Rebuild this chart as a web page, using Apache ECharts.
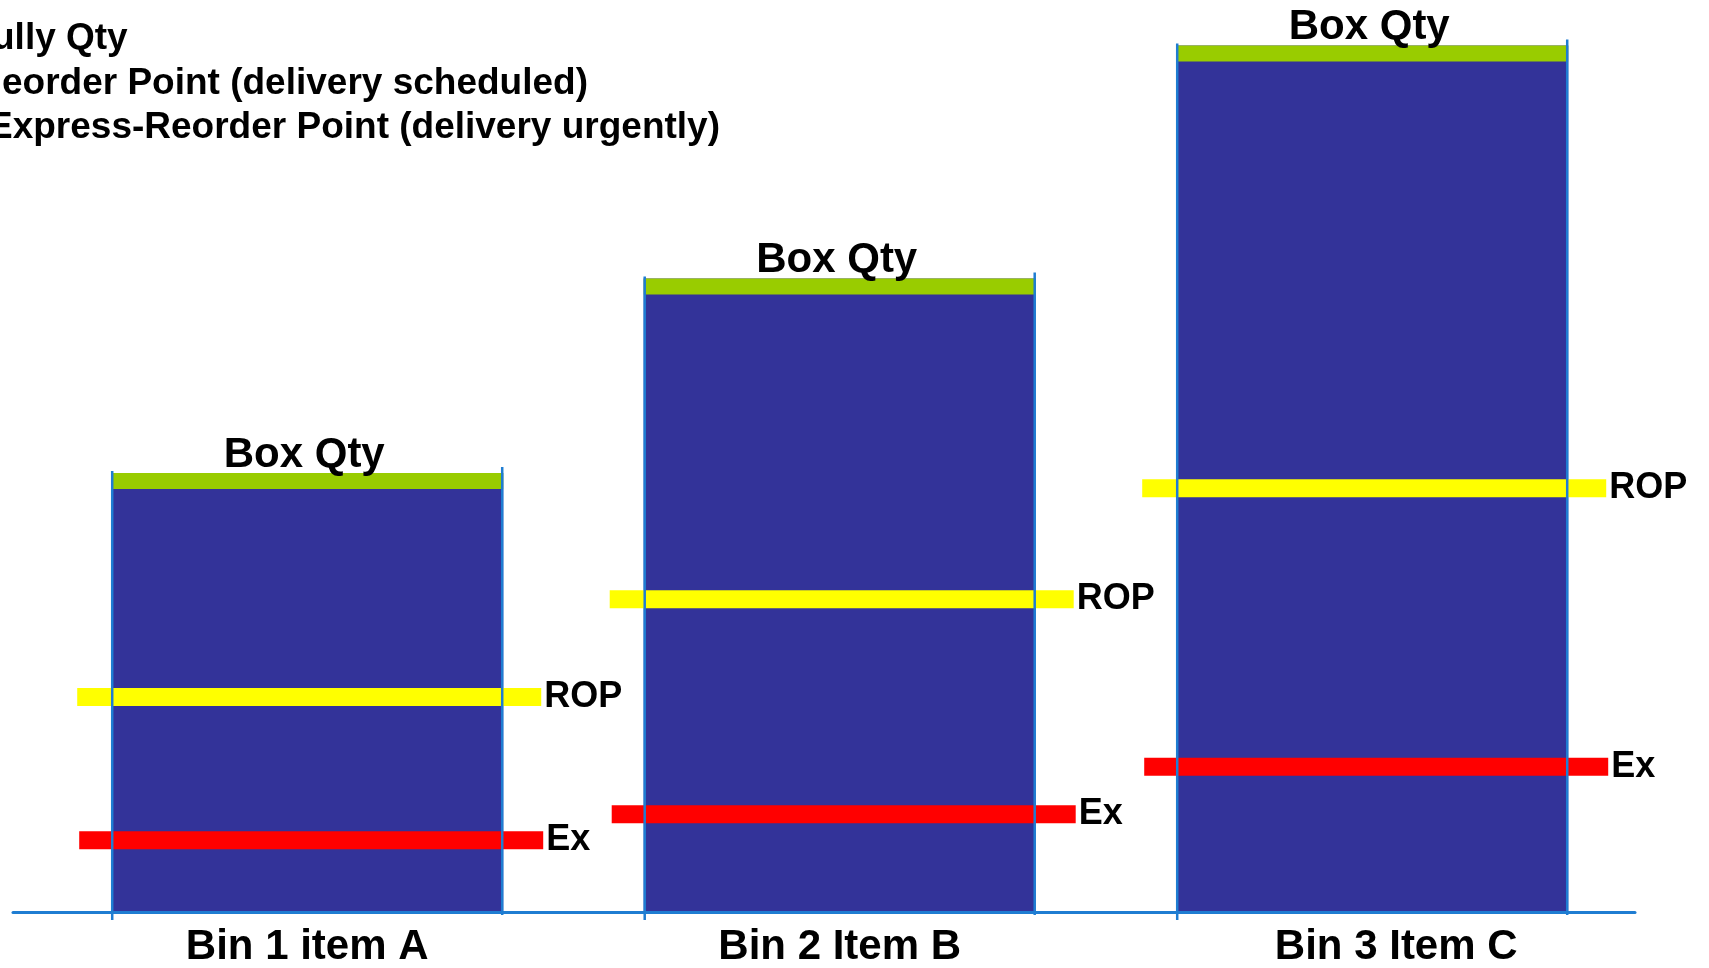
<!DOCTYPE html>
<html>
<head>
<meta charset="utf-8">
<script src="https://cdn.jsdelivr.net/npm/echarts@6/dist/echarts.min.js"></script>
<style>
  html, body { margin: 0; padding: 0; background: #ffffff; }
  #chart { width: 1709px; height: 968px; }
</style>
</head>
<body>
<div id="chart"></div>
<script>
// ---- data ----
const categories = ['Bin 1 item A', 'Bin 2 Item B', 'Bin 3 Item C'];
const categoryPos = [1, 2, 3];
const boxQty = [49, 70.7, 96.7];          // top of bin (green line)
const reorderPoint = [24, 34.9, 47.3];    // ROP (yellow line)
const expressPoint = [8, 10.9, 16.2];     // Ex (red line)
const legendLines = [
  'ully Qty',
  'eorder Point (delivery scheduled)',
  'Express-Reorder Point (delivery urgently)'
];
const boxLabel = 'Box Qty';
const ropLabel = 'ROP';
const exLabel = 'Ex';

// ---- styles ----
const FONT = '"Liberation Sans", Arial, Helvetica, sans-serif';
const BAR_COLOR = '#333399';
const GREEN = '#99CC00';
const YELLOW = '#FFFF00';
const RED = '#FF0000';
const EDGE = '#1f7dd2';
const BAR_W = 392;
const LINE_W = 464;

const chart = echarts.init(document.getElementById('chart'));

const pairs = (arr) => arr.map((v, i) => [categoryPos[i], v]);

const option = {
  animation: false,
  backgroundColor: '#ffffff',
  grid: { left: 13, right: 74, top: 16, bottom: 52, containLabel: false },
  xAxis: {
    type: 'value',
    min: 0.4475,
    max: 3.4935,
    z: 10,
    splitLine: { show: false },
    axisTick: { show: false },
    axisLine: { show: true, onZero: true, lineStyle: { color: EDGE, width: 3 } },
    axisLabel: {
      customValues: categoryPos,
      margin: 14,
      color: '#000',
      fontFamily: FONT,
      fontWeight: 'bold',
      fontSize: 42,
      formatter: function (v) {
        const i = Math.round(v) - 1;
        if (i === 2) return '{s|' + categories[i] + '}';
        return categories[i];
      },
      rich: {
        s: { fontFamily: FONT, fontWeight: 'bold', fontSize: 42, color: '#000', padding: [0, 0, 0, 48] }
      }
    }
  },
  yAxis: {
    type: 'value',
    min: 0,
    max: 100,
    show: false,
    splitLine: { show: false }
  },
  graphic: legendLines.map((t, i) => ({
    type: 'text',
    x: [-8, 2, -12][i],
    y: [39, 84, 128][i],
    style: {
      text: t,
      fill: '#000',
      font: 'bold 37px ' + FONT,
      verticalAlign: 'middle'
    }
  })),
  series: [
    {
      name: 'Bin',
      type: 'bar',
      data: pairs(boxQty),
      barWidth: BAR_W,
      itemStyle: { color: BAR_COLOR },
      z: 2
    },
    {
      name: 'Box Qty',
      type: 'scatter',
      data: pairs(boxQty),
      symbol: 'rect',
      symbolSize: [BAR_W, 16],
      symbolOffset: [0, 8],
      itemStyle: { color: GREEN, opacity: 1 },
      z: 3,
      label: {
        show: true,
        position: 'top',
        distance: -3,
        offset: [-3, 0],
        formatter: boxLabel,
        color: '#000',
        fontFamily: FONT,
        fontWeight: 'bold',
        fontSize: 42
      }
    },
    {
      name: 'ROP',
      type: 'scatter',
      data: pairs(reorderPoint),
      symbol: 'rect',
      symbolSize: [LINE_W, 18],
      symbolOffset: [2, 0],
      itemStyle: { color: YELLOW, opacity: 1 },
      z: 3,
      label: {
        show: true,
        position: 'right',
        distance: 3,
        formatter: ropLabel,
        color: '#000',
        fontFamily: FONT,
        fontWeight: 'bold',
        fontSize: 36
      }
    },
    {
      name: 'Ex',
      type: 'scatter',
      data: pairs(expressPoint),
      symbol: 'rect',
      symbolSize: [LINE_W, 18],
      symbolOffset: [4, 0],
      itemStyle: { color: RED, opacity: 1 },
      z: 3,
      label: {
        show: true,
        position: 'right',
        distance: 3,
        formatter: exLabel,
        color: '#000',
        fontFamily: FONT,
        fontWeight: 'bold',
        fontSize: 36
      }
    },
    {
      name: 'Edges',
      type: 'custom',
      data: pairs(boxQty),
      z: 4,
      silent: true,
      renderItem: function (params, api) {
        const x = api.value(0);
        const top = api.value(1);
        const p0 = api.coord([x, 0]);
        const p1 = api.coord([x, top]);
        const half = BAR_W / 2 - 1;
        const style = { stroke: EDGE, lineWidth: 2.5 };
        return {
          type: 'group',
          children: [
            { type: 'line', shape: { x1: p0[0] - half, y1: p0[1] + 8, x2: p0[0] - half, y2: p1[1] - 2 }, style: style },
            { type: 'line', shape: { x1: p0[0] + half, y1: p0[1] + 3, x2: p0[0] + half, y2: p1[1] - 6 }, style: style }
          ]
        };
      }
    }
  ]
};

chart.setOption(option);
</script>
</body>
</html>
